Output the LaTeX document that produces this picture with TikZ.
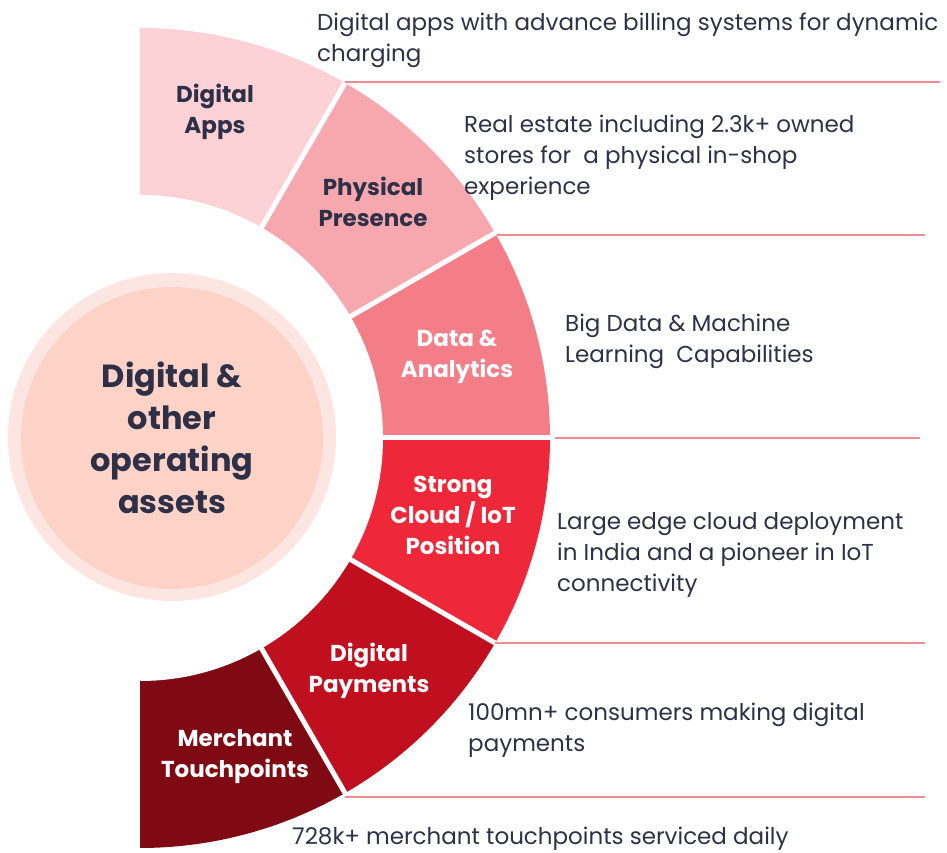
\documentclass[tikz,border=0pt]{standalone}
\usepackage{fontspec}
\setmainfont{Poppins}
\usetikzlibrary{calc}
\definecolor{segA}{HTML}{FCD2D7}
\definecolor{segB}{HTML}{F7A8AF}
\definecolor{segC}{HTML}{F37E88}
\definecolor{segD}{HTML}{EE2839}
\definecolor{segE}{HTML}{C0101F}
\definecolor{segF}{HTML}{800A14}
\definecolor{hubring}{HTML}{FDE6E2}
\definecolor{hubfill}{HTML}{FDD3C8}
\definecolor{inkdark}{HTML}{2E3047}
\definecolor{rulepink}{HTML}{F28A92}
\begin{document}
\begin{tikzpicture}[x=1pt,y=1pt,
  seglabel/.style={font=\fontsize{23}{31}\selectfont\bfseries,align=center,inner sep=0pt},
  desc/.style={font=\fontsize{23}{31}\selectfont,text=inkdark,align=left,anchor=west,inner sep=0pt},
  sepline/.style={draw=rulepink,line width=1.4pt}]
\useasboundingbox (0,0) rectangle (947,853);
\coordinate (C) at (140,415);
% ring segments
\foreach \a/\c in {90/segA,60/segB,30/segC,0/segD,-30/segE,-60/segF}
  \fill[\c] (C) -- ($(C)+(\a:410)$) arc[start angle=\a,end angle=\a-30,radius=410] -- cycle;
\fill[white] (C) circle[radius=243];
% gaps between segments
\foreach \a in {60,30,0,-30,-60}
  \draw[white,line width=5pt] ($(C)+(\a:238)$) -- ($(C)+(\a:415)$);
% hub
\fill[hubring] (172,416) circle[radius=164];
\node[circle,fill=hubfill,minimum size=302pt,inner sep=0pt,align=center,text=inkdark,
  font=\fontsize{32}{42}\selectfont\bfseries] (hub) at (172,415) {Digital \&\\other\\operating\\assets};
% segment labels
\node[seglabel,text=inkdark] (apps) at (215,741) {Digital\\Apps};
\node[seglabel,text=inkdark] (phys) at (373,651) {Physical\\Presence};
\node[seglabel,text=white] (data) at (457,496) {Data \&\\Analytics};
\node[seglabel,text=white] (cloud) at (453,338) {Strong\\Cloud / IoT\\Position};
\node[seglabel,text=white] (pay) at (369,182) {Digital\\Payments};
\node[seglabel,text=white] (merch) at (235,96) {Merchant\\Touchpoints};
% separators
\draw[sepline] (345,771) -- (940,771);
\draw[sepline] (497,618) -- (925,618);
\draw[sepline] (555,415) -- (920,415);
\draw[sepline] (495,210) -- (925,210);
\draw[sepline] (345,56) -- (925,56);
% descriptions
\node[desc] (dApps) at (317,813) {Digital apps with advance billing systems for dynamic\\charging};
\node[desc] (dPhys) at (464,695) {Real estate including 2.3k+ owned\\stores for\ \ a physical in-shop\\experience};
\node[desc] (dData) at (565,512) {Big Data \& Machine\\Learning\ \ Capabilities};
\node[desc] (dCloud) at (557,298) {Large edge cloud deployment\\in India and a pioneer in IoT\\connectivity};
\node[desc] (dPay) at (468,123) {100mn+ consumers making digital\\payments};
\node[desc] (dMerch) at (292,14) {728k+ merchant touchpoints serviced daily};
\end{tikzpicture}
\end{document}
